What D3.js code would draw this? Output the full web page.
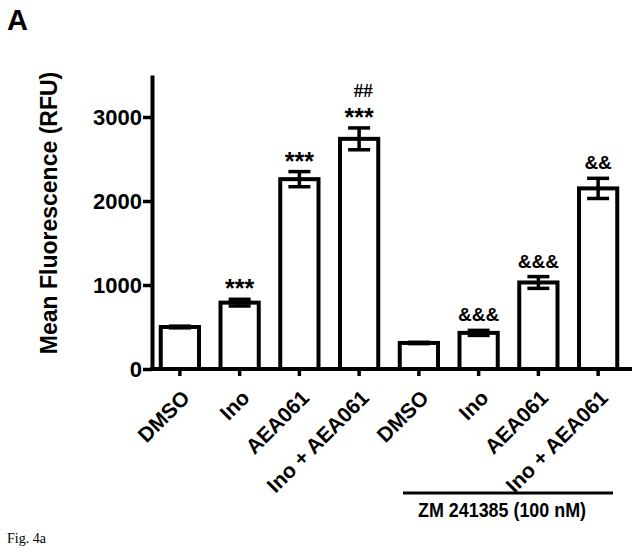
<!DOCTYPE html>
<html>
<head>
<meta charset="utf-8">
<script src="https://cdn.jsdelivr.net/npm/d3@7"></script>
<style>
  body { margin: 0; background: #fff; }
  text { font-family: "Liberation Sans", Arial, sans-serif; font-weight: bold; fill: #000; }
</style>
</head>
<body>
<svg width="635" height="552"></svg>
<script>
var labels = ["DMSO", "Ino", "AEA061", "Ino + AEA061", "DMSO", "Ino", "AEA061", "Ino + AEA061"];
var means = [500, 790, 2260, 2740, 310, 430, 1030, 2150];
var errors = [10, 40, 90, 130, 8, 30, 70, 120];
var sig1 = ["", "***", "***", "***", "", "&&&", "&&&", "&&"];
var sig2 = ["", "", "", "##", "", "", "", ""];
var yTicks = [0, 1000, 2000, 3000];

var svg = d3.select("svg");

var idx = d3.range(labels.length);

var x = d3.scaleBand()
	.domain(idx)
	.range([150, 628])
	.paddingInner(0.36)
	.paddingOuter(0.18);

var y = d3.scaleLinear()
	.domain([0, 3500])
	.range([369, 75]);

// bars
svg.selectAll("rect.bar")
	.data(means)
	.enter()
	.append("rect")
	.attr("class", "bar")
	.attr("x", function(d, i) { return x(i); })
	.attr("width", x.bandwidth())
	.attr("y", function(d) { return y(d); })
	.attr("height", function(d) { return y(0) - y(d); })
	.attr("fill", "#fff")
	.attr("stroke", "#000")
	.attr("stroke-width", 4);

// error bars
var eb = svg.selectAll("g.err")
	.data(means)
	.enter()
	.append("g")
	.attr("class", "err")
	.attr("stroke", "#000")
	.attr("stroke-width", 3.5);

eb.append("line")
	.attr("x1", function(d, i) { return x(i) + x.bandwidth() / 2; })
	.attr("x2", function(d, i) { return x(i) + x.bandwidth() / 2; })
	.attr("y1", function(d, i) { return y(d + errors[i]); })
	.attr("y2", function(d, i) { return y(d - errors[i]); });

eb.selectAll("line.cap")
	.data(function(d, i) { return [[i, d + errors[i]], [i, d - errors[i]]]; })
	.enter()
	.append("line")
	.attr("class", "cap")
	.attr("x1", function(d) { return x(d[0]) + x.bandwidth() / 2 - 11; })
	.attr("x2", function(d) { return x(d[0]) + x.bandwidth() / 2 + 11; })
	.attr("y1", function(d) { return y(d[1]); })
	.attr("y2", function(d) { return y(d[1]); });

// axes
var yAxis = svg.append("g")
	.attr("transform", "translate(152,0)")
	.call(d3.axisLeft(y).tickValues(yTicks).tickSize(9).tickSizeOuter(0).tickFormat(d3.format("d")));

var xAxis = svg.append("g")
	.attr("transform", "translate(0,369)")
	.call(d3.axisBottom(x).tickSize(7).tickSizeOuter(0).tickFormat(function(i) { return labels[i]; }));

xAxis.select(".domain").attr("d", "M150,0H632");

svg.selectAll(".domain").attr("stroke", "#000").attr("stroke-width", 4);
svg.selectAll(".tick line").attr("stroke", "#000").attr("stroke-width", 3.5);

yAxis.selectAll(".tick text")
	.attr("font-size", 22)
	.attr("x", -10)
	.attr("dy", "0.36em")
	.style("font-family", "'Liberation Sans', Arial, sans-serif")
	.style("font-weight", "bold");

xAxis.selectAll(".tick text")
	.attr("font-size", 21)
	.attr("text-anchor", "end")
	.attr("x", 0)
	.attr("y", 0)
	.attr("dy", "0.35em")
	.attr("transform", "translate(6,25) rotate(-45)")
	.style("font-family", "'Liberation Sans', Arial, sans-serif")
	.style("font-weight", "bold");

// significance marks
svg.selectAll("text.sig1")
	.data(sig1)
	.enter()
	.append("text")
	.attr("class", "sig1")
	.attr("text-anchor", "middle")
	.attr("font-size", function(d) { return d.charAt(0) == "*" ? 25 : 19; })
	.attr("x", function(d, i) { return x(i) + x.bandwidth() / 2; })
	.attr("y", function(d, i) { return y(means[i] + errors[i]) - (d.charAt(0) == "*" ? 2 : 9); })
	.text(function(d) { return d; });

svg.selectAll("text.sig2")
	.data(sig2)
	.enter()
	.append("text")
	.attr("class", "sig2")
	.attr("text-anchor", "middle")
	.attr("font-size", 19)
	.style("font-family", "'Liberation Serif', 'Times New Roman', serif")
	.attr("x", function(d, i) { return x(i) + x.bandwidth() / 2 + 4; })
	.attr("y", function(d, i) { return y(means[i] + errors[i]) - 31; })
	.text(function(d) { return d; });

// y axis title
svg.append("text")
	.attr("transform", "translate(57,213) rotate(-90)")
	.attr("text-anchor", "middle")
	.attr("font-size", 23)
	.text("Mean Fluorescence (RFU)");

// treatment bracket
svg.append("line")
	.attr("x1", 403).attr("x2", 613)
	.attr("y1", 493).attr("y2", 493)
	.attr("stroke", "#000")
	.attr("stroke-width", 3);

svg.append("text")
	.attr("x", 502)
	.attr("y", 517)
	.attr("text-anchor", "middle")
	.attr("font-size", 21)
	.attr("textLength", 168)
	.attr("lengthAdjust", "spacingAndGlyphs")
	.text("ZM 241385 (100 nM)");

// panel letter and caption
svg.append("text")
	.attr("x", 7)
	.attr("y", 30)
	.attr("font-size", 29)
	.text("A");

svg.append("text")
	.attr("x", 7)
	.attr("y", 543)
	.attr("font-size", 14)
	.style("font-family", "'Liberation Serif', 'Times New Roman', serif")
	.style("font-weight", "normal")
	.text("Fig. 4a");
</script>
</body>
</html>
